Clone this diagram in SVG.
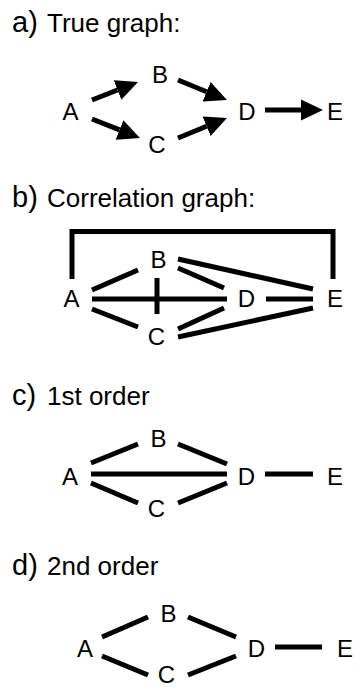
<svg xmlns="http://www.w3.org/2000/svg" width="354" height="692" viewBox="0 0 354 692">
<style>
text{font-family:"Liberation Sans",Arial,Helvetica,sans-serif;fill:#000}
.t{font-size:26px}
.p{font-size:29px}
.n{font-size:24px;text-anchor:middle}
.e{stroke:#000;stroke-width:5;fill:none;stroke-linecap:butt}
.a{marker-end:url(#ah)}
</style>
<defs>
<marker id="ah" markerUnits="userSpaceOnUse" viewBox="0 0 22 22" markerWidth="22" markerHeight="22" refX="0" refY="11" orient="auto">
<path d="M0,0.5 L22,11 L0,21.5 z" fill="#000"/>
</marker>
</defs>
<rect width="354" height="692" fill="#fff"/>

<g id="titles">
<text class="t" x="12" y="32"><tspan class="p">a)</tspan><tspan x="47">True graph:</tspan></text>
<text class="t" x="12" y="207"><tspan class="p">b)</tspan><tspan x="47">Correlation graph:</tspan></text>
<text class="t" x="12" y="405"><tspan class="p">c)</tspan><tspan x="47">1st order</tspan></text>
<text class="t" x="12" y="575"><tspan class="p">d)</tspan><tspan x="47">2nd order</tspan></text>
</g>

<!-- panel a -->
<g id="a-nodes">
<g id="a-A"><text class="n" x="70.5" y="120">A</text></g>
<g id="a-B"><text class="n" x="160" y="83">B</text></g>
<g id="a-C"><text class="n" x="157" y="153">C</text></g>
<g id="a-D"><text class="n" x="247" y="120">D</text></g>
<g id="a-E"><text class="n" x="335" y="120">E</text></g>
</g>
<g id="a-edges">
<line class="e a" x1="92" y1="100" x2="117.5" y2="90"/>
<line class="e a" x1="92" y1="119" x2="119.5" y2="129.9"/>
<line class="e a" x1="178" y1="80" x2="206.6" y2="91.7"/>
<line class="e a" x1="178" y1="138" x2="206.6" y2="126.3"/>
<line class="e a" x1="265" y1="110" x2="301" y2="110"/>
</g>

<!-- panel b -->
<g id="b-nodes">
<g id="b-A"><text class="n" x="71.5" y="307">A</text></g>
<g id="b-B"><text class="n" x="158.5" y="268">B</text></g>
<g id="b-C"><text class="n" x="156.5" y="345">C</text></g>
<g id="b-D"><text class="n" x="246.5" y="307">D</text></g>
<g id="b-E"><text class="n" x="335" y="307">E</text></g>
</g>
<g id="b-edges">
<path class="e" d="M72,279 V231.5 H333 V279"/>
<line class="e" x1="92" y1="290" x2="138" y2="270"/>
<line class="e" x1="92" y1="299" x2="227" y2="299"/>
<line class="e" x1="92" y1="309" x2="138" y2="327"/>
<line class="e" x1="157" y1="278" x2="157" y2="314"/>
<line class="e" x1="178" y1="268" x2="224" y2="288"/>
<line class="e" x1="178" y1="259" x2="313" y2="289"/>
<line class="e" x1="266" y1="299" x2="313" y2="299"/>
<line class="e" x1="178" y1="329" x2="224" y2="308"/>
<line class="e" x1="178" y1="337" x2="313" y2="308"/>
</g>

<!-- panel c -->
<g id="c-nodes">
<g id="c-A"><text class="n" x="70" y="485">A</text></g>
<g id="c-B"><text class="n" x="158.5" y="447">B</text></g>
<g id="c-C"><text class="n" x="156.5" y="517">C</text></g>
<g id="c-D"><text class="n" x="246.5" y="485">D</text></g>
<g id="c-E"><text class="n" x="335" y="485">E</text></g>
</g>
<g id="c-edges">
<line class="e" x1="91" y1="463" x2="138" y2="444"/>
<line class="e" x1="91" y1="474" x2="227" y2="474"/>
<line class="e" x1="91" y1="483" x2="138" y2="503"/>
<line class="e" x1="178" y1="444" x2="227" y2="464"/>
<line class="e" x1="178" y1="503" x2="227" y2="483"/>
<line class="e" x1="265" y1="474" x2="313" y2="474"/>
</g>

<!-- panel d -->
<g id="d-nodes">
<g id="d-A"><text class="n" x="85" y="657">A</text></g>
<g id="d-B"><text class="n" x="168.5" y="622">B</text></g>
<g id="d-C"><text class="n" x="166.5" y="683">C</text></g>
<g id="d-D"><text class="n" x="256.5" y="657">D</text></g>
<g id="d-E"><text class="n" x="345" y="657">E</text></g>
</g>
<g id="d-edges">
<line class="e" x1="102" y1="637" x2="148" y2="617"/>
<line class="e" x1="102" y1="656" x2="148" y2="675"/>
<line class="e" x1="188" y1="617" x2="236" y2="637"/>
<line class="e" x1="188" y1="675" x2="236" y2="656"/>
<line class="e" x1="275" y1="647" x2="322" y2="647"/>
</g>
</svg>
